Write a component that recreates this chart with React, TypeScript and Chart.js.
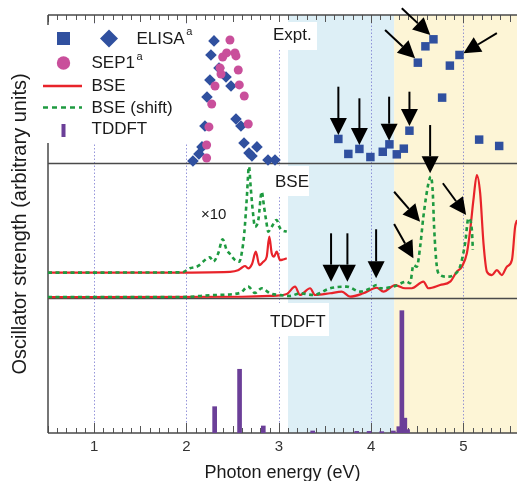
import React, { useEffect, useRef } from 'react';
import { Chart, registerables } from 'chart.js';

Chart.register(...registerables);

const FONT = '"Liberation Sans", Arial, Helvetica, sans-serif';

// ---------- axis / panel values ----------
const energyRange = [0.5, 5.58];
const strengthRange = [0, 3.096];
const tickLabels = [1, 2, 3, 4, 5];
const panelBounds = [1, 2];
const blueBand = [3.1, 4.25];
const yellowBand = [4.25, 5.58];

// ---------- Expt. ----------
const elisaSquareE = [3.645, 3.753, 3.873, 3.992, 4.126, 4.198, 4.278, 4.354, 4.415, 4.506, 4.588, 4.675, 4.769, 4.853, 4.957, 5.17, 5.387];
const elisaSquareI = [2.178, 2.067, 2.104, 2.044, 2.083, 2.138, 2.064, 2.106, 2.239, 2.743, 2.864, 2.916, 2.484, 2.721, 2.8, 2.173, 2.126];

const elisaDiamondE = [2.07, 2.135, 2.168, 2.2, 2.222, 2.254, 2.265, 2.298, 2.352, 2.428, 2.482, 2.536, 2.59, 2.623, 2.677, 2.709, 2.763, 2.883, 2.959];
const elisaDiamondI = [2.015, 2.067, 2.119, 2.274, 2.489, 2.615, 2.8, 2.904, 2.704, 2.637, 2.57, 2.326, 2.274, 2.148, 2.074, 2.052, 2.119, 2.022, 2.022];

const sep1E = [2.218, 2.218, 2.243, 2.273, 2.309, 2.363, 2.374, 2.392, 2.435, 2.471, 2.525, 2.536, 2.561, 2.572, 2.626, 2.669];
const sep1I = [2.037, 2.133, 2.267, 2.437, 2.57, 2.704, 2.659, 2.785, 2.815, 2.911, 2.815, 2.793, 2.689, 2.578, 2.496, 2.289];

// ---------- BSE (x10, upper copy) ----------
const bseX10E = [0.5, 1.713, 2.472, 2.558, 2.598, 2.634, 2.669, 2.71, 2.751, 2.789, 2.829, 2.869, 2.897, 2.923, 2.948, 2.977, 3.013, 3.046, 3.086];
const bseX10I = [1.188, 1.188, 1.194, 1.205, 1.224, 1.237, 1.22, 1.252, 1.343, 1.244, 1.267, 1.306, 1.454, 1.331, 1.306, 1.343, 1.281, 1.285, 1.294];

const shiftX10E = [0.5, 1.95, 2.037, 2.127, 2.2, 2.254, 2.29, 2.344, 2.392, 2.435, 2.471, 2.525, 2.572, 2.598, 2.626, 2.652, 2.677, 2.695, 2.717, 2.742, 2.778, 2.815, 2.84, 2.862, 2.886, 2.923, 2.977, 3.005, 3.031, 3.086];
const shiftX10I = [1.188, 1.19, 1.22, 1.237, 1.281, 1.301, 1.269, 1.331, 1.435, 1.356, 1.326, 1.281, 1.269, 1.331, 1.479, 1.726, 1.973, 1.824, 1.652, 1.528, 1.578, 1.787, 1.676, 1.578, 1.491, 1.528, 1.578, 1.528, 1.504, 1.491];

// ---------- BSE (full range, lower copy) ----------
const bseE = [0.5, 2.6, 2.9, 3.087, 3.176, 3.23, 3.339, 3.393, 3.556, 3.682, 3.772, 3.916, 4.061, 4.133, 4.26, 4.368, 4.441, 4.566, 4.621, 4.747, 4.856, 4.928, 4.983, 5.037, 5.073, 5.108, 5.145, 5.181, 5.217, 5.254, 5.308, 5.362, 5.416, 5.47, 5.525, 5.56, 5.581];
const bseI = [1.007, 1.009, 1.015, 1.03, 1.084, 1.022, 1.072, 1.022, 1.035, 1.047, 1.01, 1.035, 1.076, 1.047, 1.096, 1.072, 1.072, 1.121, 1.072, 1.096, 1.121, 1.195, 1.232, 1.331, 1.504, 1.726, 1.911, 1.776, 1.405, 1.195, 1.17, 1.207, 1.17, 1.232, 1.281, 1.528, 1.578];

const shiftE = [0.5, 1.929, 2.309, 2.579, 2.669, 2.742, 2.815, 2.905, 3.013, 3.122, 3.23, 3.374, 3.556, 3.736, 3.88, 3.989, 4.061, 4.098, 4.241, 4.386, 4.422, 4.458, 4.495, 4.531, 4.566, 4.621, 4.647, 4.668, 4.682, 4.712, 4.747, 4.82, 4.892, 4.963, 5.018, 5.054, 5.091, 5.102];
const shiftI = [1.007, 1.007, 1.022, 1.037, 1.084, 1.037, 1.072, 1.035, 1.022, 1.015, 1.035, 1.022, 1.072, 1.084, 1.047, 1.072, 1.096, 1.072, 1.084, 1.121, 1.109, 1.244, 1.232, 1.38, 1.602, 1.85, 1.899, 1.776, 1.528, 1.232, 1.17, 1.158, 1.17, 1.232, 1.405, 1.59, 1.504, 1.356];

// ---------- TDDFT sticks ----------
const tddftE = [2.305, 2.575, 2.832, 3.367, 3.844, 3.978, 4.115, 4.241, 4.3, 4.333, 4.365, 4.395];
const tddftI = [0.195, 0.472, 0.052, 0.015, 0.012, 0.012, 0.01, 0.015, 0.047, 0.906, 0.11, 0.025];

// ---------- annotation arrows: [tailE, tailI, tipE, tipI] ----------
const arrows = [
  [3.645, 2.565, 3.645, 2.207],
  [3.873, 2.479, 3.873, 2.133],
  [4.195, 2.491, 4.195, 2.165],
  [4.415, 2.528, 4.415, 2.274],
  [4.151, 2.985, 4.476, 2.776],
  [4.332, 3.146, 4.641, 2.948],
  [5.362, 2.961, 5.0, 2.813],
  [4.639, 2.281, 4.639, 1.924],
  [3.566, 1.479, 3.566, 1.121],
  [3.743, 1.479, 3.743, 1.121],
  [4.054, 1.509, 4.054, 1.146],
  [4.249, 1.787, 4.53, 1.565],
  [4.249, 1.548, 4.458, 1.294],
  [4.777, 1.85, 5.029, 1.615],
];

const BLUE = '#30509f';
const MAGENTA = '#c94f9b';
const RED = '#e8232a';
const GREEN = '#1e9a40';
const PURPLE = '#6b3f98';
const TEXT = '#1a1a1a';

const pts = (e: number[], v: number[]) => e.map((x, i) => ({ x, y: v[i] }));

function drawArrow(ctx: CanvasRenderingContext2D, x0: number, y0: number, x1: number, y1: number) {
  const ang = Math.atan2(y1 - y0, x1 - x0);
  const hl = 17;
  const hw = 8.5;
  const bx = x1 - hl * Math.cos(ang);
  const by = y1 - hl * Math.sin(ang);
  ctx.strokeStyle = '#000';
  ctx.fillStyle = '#000';
  ctx.lineWidth = 2;
  ctx.beginPath();
  ctx.moveTo(x0, y0);
  ctx.lineTo(bx, by);
  ctx.stroke();
  ctx.beginPath();
  ctx.moveTo(x1, y1);
  ctx.lineTo(bx - hw * Math.sin(ang), by + hw * Math.cos(ang));
  ctx.lineTo(bx + hw * Math.sin(ang), by - hw * Math.cos(ang));
  ctx.closePath();
  ctx.fill();
}

const decorPlugin = {
  id: 'decor',
  beforeDatasetsDraw(chart: any) {
    const { ctx, chartArea: ca, scales } = chart;
    const X = (v: number) => scales.x.getPixelForValue(v);
    const Y = (v: number) => scales.y.getPixelForValue(v);
    ctx.save();
    const h = ca.bottom - ca.top;
    ctx.fillStyle = '#ddeff6';
    ctx.fillRect(X(blueBand[0]), ca.top, X(blueBand[1]) - X(blueBand[0]), h);
    ctx.fillStyle = '#fdf5d6';
    ctx.fillRect(X(yellowBand[0]), ca.top, X(yellowBand[1]) - X(yellowBand[0]) + 4, h);

    // dotted grid at integer energies
    ctx.strokeStyle = 'rgba(115,115,205,0.75)';
    ctx.lineWidth = 1;
    ctx.setLineDash([1.5, 2]);
    tickLabels.forEach((v) => {
      const p = Math.round(X(v)) + 0.5;
      ctx.beginPath();
      ctx.moveTo(p, ca.top);
      ctx.lineTo(p, ca.bottom);
      ctx.stroke();
    });
    ctx.setLineDash([]);

    // tick marks (top, pointing down; bottom, pointing up)
    ctx.strokeStyle = '#555';
    ctx.lineWidth = 1;
    for (let i = 5; i <= 55; i++) {
      const v = i / 10;
      const p = Math.round(X(v)) + 0.5;
      const lenB = i % 10 === 0 ? 10 : i % 5 === 0 ? 7 : 5;
      const lenT = i % 10 === 0 ? 8 : i % 5 === 0 ? 7 : 5;
      ctx.beginPath();
      ctx.moveTo(p, ca.top);
      ctx.lineTo(p, ca.top + lenT);
      ctx.moveTo(p, ca.bottom);
      ctx.lineTo(p, ca.bottom - lenB);
      ctx.stroke();
    }

    // frame and panel dividers
    ctx.strokeStyle = '#4a4a4a';
    ctx.lineWidth = 1.5;
    ctx.beginPath();
    ctx.moveTo(ca.left, ca.top);
    ctx.lineTo(ca.right, ca.top);
    ctx.moveTo(ca.left, ca.bottom);
    ctx.lineTo(ca.right, ca.bottom);
    ctx.moveTo(ca.left, ca.top);
    ctx.lineTo(ca.left, ca.bottom);
    panelBounds.forEach((b) => {
      const py = Math.round(Y(b)) + 0.5;
      ctx.moveTo(ca.left, py);
      ctx.lineTo(ca.right, py);
    });
    ctx.stroke();

    // white boxes behind legend and panel labels
    ctx.fillStyle = '#ffffff';
    ctx.fillRect(38, 25, 154, 118);
    ctx.fillRect(268, 22, 49, 28);
    ctx.fillRect(270, 166, 39, 30);
    ctx.fillRect(267, 303, 62, 33);
    ctx.restore();
  },
  afterDatasetsDraw(chart: any) {
    const { ctx, scales } = chart;
    const X = (v: number) => scales.x.getPixelForValue(v);
    const Y = (v: number) => scales.y.getPixelForValue(v);
    ctx.save();
    arrows.forEach((a) => drawArrow(ctx, X(a[0]), Y(a[1]), X(a[2]), Y(a[3])));

    // panel labels
    ctx.fillStyle = TEXT;
    ctx.textBaseline = 'middle';
    ctx.textAlign = 'left';
    ctx.font = `17px ${FONT}`;
    ctx.fillText('Expt.', 273, 35);
    ctx.fillText('BSE', 275, 182);
    ctx.fillText('TDDFT', 270, 322);
    ctx.font = `15px ${FONT}`;
    ctx.fillText('\u00d710', 201, 215);

    // legend
    const tx = 91.5;
    ctx.font = `17px ${FONT}`;
    ctx.fillStyle = BLUE;
    ctx.fillRect(57, 32, 13, 13);
    ctx.beginPath();
    ctx.moveTo(109, 29.5);
    ctx.lineTo(118, 38.5);
    ctx.lineTo(109, 47.5);
    ctx.lineTo(100, 38.5);
    ctx.closePath();
    ctx.fill();
    ctx.fillStyle = TEXT;
    ctx.fillText('ELISA', 136.5, 39);
    let w = ctx.measureText('ELISA').width;
    ctx.font = `11px ${FONT}`;
    ctx.fillText('a', 136.5 + w + 1.5, 32);
    ctx.fillStyle = MAGENTA;
    ctx.beginPath();
    ctx.arc(63.5, 63, 6.7, 0, Math.PI * 2);
    ctx.fill();
    ctx.fillStyle = TEXT;
    ctx.font = `17px ${FONT}`;
    ctx.fillText('SEP1', tx, 63.5);
    w = ctx.measureText('SEP1').width;
    ctx.font = `11px ${FONT}`;
    ctx.fillText('a', tx + w + 1.5, 56.5);
    ctx.font = `17px ${FONT}`;
    ctx.strokeStyle = RED;
    ctx.lineWidth = 2.5;
    ctx.beginPath();
    ctx.moveTo(43, 86);
    ctx.lineTo(82, 86);
    ctx.stroke();
    ctx.fillText('BSE', tx, 86.5);
    ctx.strokeStyle = GREEN;
    ctx.setLineDash([5, 4]);
    ctx.beginPath();
    ctx.moveTo(43, 107.5);
    ctx.lineTo(82, 107.5);
    ctx.stroke();
    ctx.setLineDash([]);
    ctx.fillText('BSE (shift)', tx, 108);
    ctx.fillStyle = PURPLE;
    ctx.fillRect(61.5, 124, 4, 13);
    ctx.fillStyle = TEXT;
    ctx.fillText('TDDFT', tx, 129.5);
    ctx.restore();
  },
};

export default function App() {
  const ref = useRef<HTMLCanvasElement | null>(null);
  useEffect(() => {
    if (!ref.current) return;
    const chart = new Chart(ref.current, {
      type: 'scatter',
      data: {
        datasets: [
          { type: 'scatter', label: 'ELISA', data: pts(elisaSquareE, elisaSquareI), pointStyle: 'rect', pointRadius: 6, backgroundColor: BLUE, borderWidth: 0, order: 1 } as any,
          { type: 'scatter', label: 'SEP1', data: pts(sep1E, sep1I), pointStyle: 'circle', pointRadius: 4.5, backgroundColor: MAGENTA, borderWidth: 0, order: 2 } as any,
          { type: 'scatter', label: 'ELISA (diamond)', data: pts(elisaDiamondE, elisaDiamondI), pointStyle: 'rectRot', pointRadius: 5.8, backgroundColor: BLUE, borderWidth: 0, order: 3 } as any,
          { type: 'line', label: 'BSE (shift) x10', data: pts(shiftX10E, shiftX10I), borderColor: GREEN, borderDash: [4, 3.5], borderWidth: 2.6, pointRadius: 0, cubicInterpolationMode: 'monotone', fill: false, order: 4 } as any,
          { type: 'line', label: 'BSE (shift)', data: pts(shiftE, shiftI), borderColor: GREEN, borderDash: [4, 3.5], borderWidth: 2.6, pointRadius: 0, cubicInterpolationMode: 'monotone', fill: false, order: 5 } as any,
          { type: 'line', label: 'BSE x10', data: pts(bseX10E, bseX10I), borderColor: RED, borderWidth: 2.2, pointRadius: 0, cubicInterpolationMode: 'monotone', fill: false, order: 6 } as any,
          { type: 'line', label: 'BSE', data: pts(bseE, bseI), borderColor: RED, borderWidth: 2.2, pointRadius: 0, cubicInterpolationMode: 'monotone', fill: false, order: 7 } as any,
          { type: 'bar', label: 'TDDFT', data: pts(tddftE, tddftI), backgroundColor: PURPLE, borderWidth: 0, barThickness: 4, order: 8 } as any,
        ],
      },
      options: {
        animation: false,
        responsive: false,
        layout: { autoPadding: false, padding: { top: 15, right: 0, left: 0, bottom: 0 } },
        plugins: { legend: { display: false }, tooltip: { enabled: false } },
        scales: {
          x: {
            type: 'linear',
            offset: false,
            min: energyRange[0],
            max: energyRange[1],
            afterBuildTicks: (s: any) => { s.ticks = tickLabels.map((v) => ({ value: v })); },
            afterFit: (s: any) => { s.height = 48; s.paddingRight = 0; s.paddingLeft = 0; },
            grid: { display: false, drawTicks: false, tickLength: 0, offset: false },
            border: { display: false },
            ticks: {
              autoSkip: false,
              maxRotation: 0,
              padding: 0,
              color: '#333',
              font: { family: FONT, size: 15, lineHeight: 1.87 },
              callback: (v: any) => String(v),
            },
            title: { display: true, text: 'Photon energy (eV)', color: TEXT, font: { family: FONT, size: 18, lineHeight: 0.9 }, padding: 0 },
          },
          y: {
            type: 'linear',
            min: strengthRange[0],
            max: strengthRange[1],
            afterFit: (s: any) => { s.width = 48; },
            grid: { display: false, drawTicks: false, tickLength: 0 },
            border: { display: false },
            ticks: { display: false },
            title: { display: true, text: 'Oscillator strength (arbitrary units)', color: TEXT, font: { family: FONT, size: 20, lineHeight: 1 }, padding: { top: 10, bottom: 0 } },
          },
        },
      } as any,
      plugins: [decorPlugin],
    });
    return () => chart.destroy();
  }, []);
  return (
    <div style={{ position: 'absolute', left: 0, top: 0, width: 517, height: 481, background: '#fff' }}>
      <canvas ref={ref} width={517} height={481} style={{ display: 'block', width: 517, height: 481 }} />
    </div>
  );
}
